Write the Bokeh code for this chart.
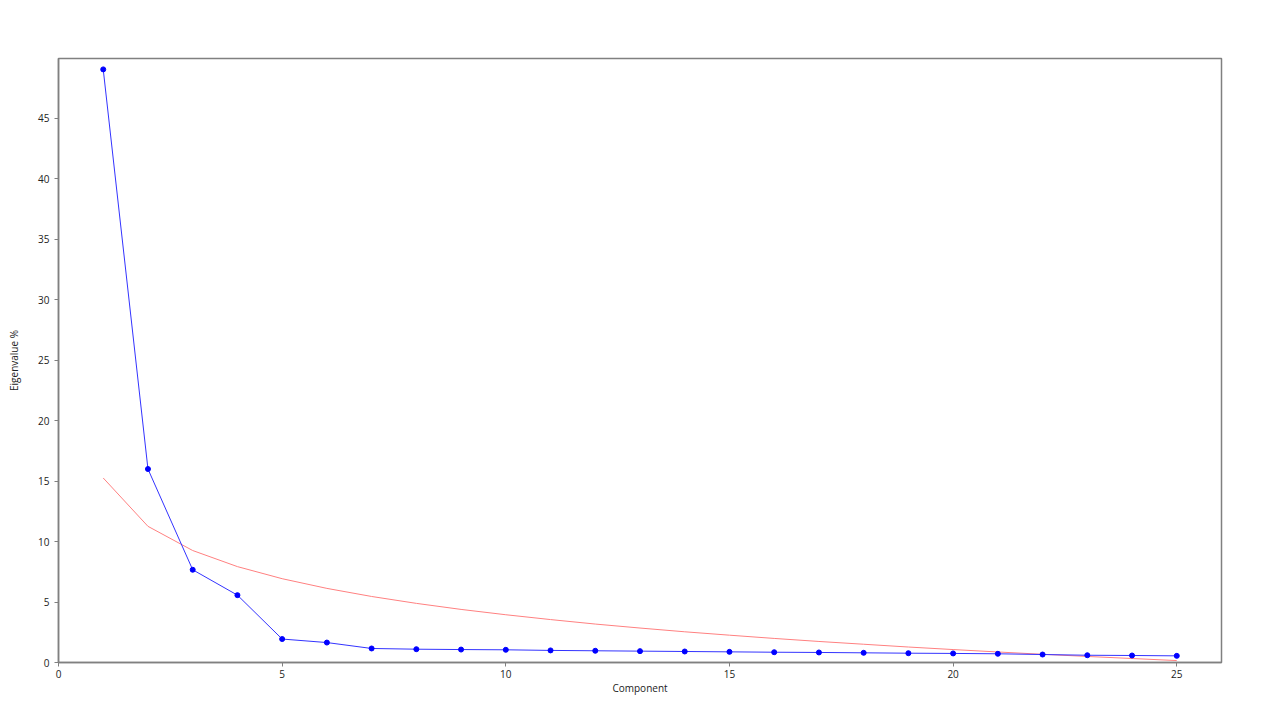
from bokeh.plotting import figure
from bokeh.models import Range1d, FixedTicker
from bokeh.embed import file_html
from bokeh.resources import INLINE

components = list(range(1, 26))
eigen_pct = [49.05, 16.0, 7.67, 5.57, 1.94, 1.65, 1.16, 1.10, 1.07, 1.05,
             1.00, 0.97, 0.94, 0.91, 0.88, 0.85, 0.83, 0.80, 0.77, 0.75,
             0.72, 0.66, 0.60, 0.58, 0.55]
broken_stick = [15.26, 11.26, 9.26, 7.93, 6.93, 6.13, 5.46, 4.89, 4.39, 3.95,
                3.55, 3.18, 2.85, 2.54, 2.26, 1.99, 1.74, 1.51, 1.28, 1.07,
                0.87, 0.68, 0.50, 0.33, 0.16]
x_ticks = [0, 5, 10, 15, 20, 25]
y_ticks = [0, 5, 10, 15, 20, 25, 30, 35, 40, 45]

p = figure(width=1271, height=713, output_backend="svg", toolbar_location=None,
           x_range=Range1d(0, 26), y_range=Range1d(0, 49.95),
           min_border_left=58, min_border_right=50, min_border_top=58, min_border_bottom=51)
p.xgrid.visible = False
p.ygrid.visible = False
p.outline_line_color = "#808080"
p.outline_line_width = 1.5

p.line(components, broken_stick, line_color="#ff8080", line_width=1)
p.line(components, eigen_pct, line_color="#3333ff", line_width=1)
p.scatter(components, eigen_pct, size=5, fill_color="#0000ff", line_color="#0000ff")

for ax, ticks, lab in ((p.xaxis, x_ticks, "Component"), (p.yaxis, y_ticks, "Eigenvalue %")):
    ax.ticker = FixedTicker(ticks=ticks)
    ax.axis_label = lab
    ax.axis_label_text_font = "Open Sans"
    ax.axis_label_text_font_size = "10px"
    ax.axis_label_text_font_style = "normal"
    ax.axis_label_text_color = "#222222"
    ax.major_label_text_font = "Open Sans"
    ax.major_label_text_font_size = "10px"
    ax.major_label_text_color = "#222222"
    ax.axis_line_color = "#808080"
    ax.axis_line_width = 1.5
    ax.major_tick_line_color = "#808080"
    ax.major_tick_out = 4
    ax.major_tick_in = 0
    ax.minor_tick_line_color = None
p.xaxis.major_label_standoff = 3
p.xaxis.axis_label_standoff = 0
p.yaxis.axis_label_standoff = 14

open("out.html", "w").write(file_html(p, INLINE))
